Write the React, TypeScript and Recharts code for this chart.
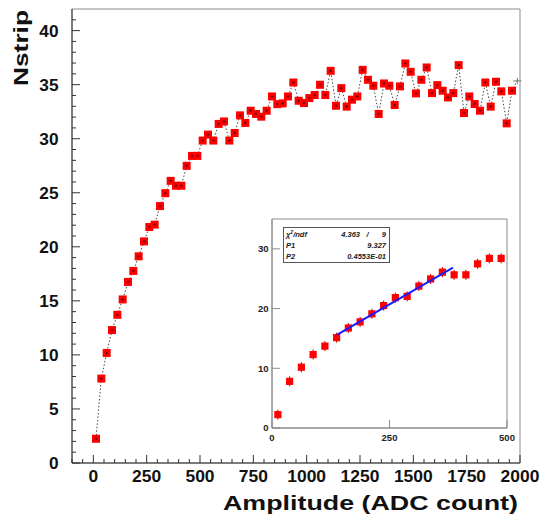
import React from 'react';
import { ComposedChart, Scatter, XAxis, YAxis, ReferenceArea } from 'recharts';

// bin centres (ADC count), 25 wide
const amplitude = [
  12.5, 37.5, 62.5, 87.5, 112.5, 137.5, 162.5, 187.5, 212.5, 237.5,
  262.5, 287.5, 312.5, 337.5, 362.5, 387.5, 412.5, 437.5, 462.5, 487.5,
  512.5, 537.5, 562.5, 587.5, 612.5, 637.5, 662.5, 687.5, 712.5, 737.5,
  762.5, 787.5, 812.5, 837.5, 862.5, 887.5, 912.5, 937.5, 962.5, 987.5,
  1012.5, 1037.5, 1062.5, 1087.5, 1112.5, 1137.5, 1162.5, 1187.5, 1212.5, 1237.5,
  1262.5, 1287.5, 1312.5, 1337.5, 1362.5, 1387.5, 1412.5, 1437.5, 1462.5, 1487.5,
  1512.5, 1537.5, 1562.5, 1587.5, 1612.5, 1637.5, 1662.5, 1687.5, 1712.5, 1737.5,
  1762.5, 1787.5, 1812.5, 1837.5, 1862.5, 1887.5, 1912.5, 1937.5, 1962.5, 1987.5,
];

const nstrip = [
  2.24, 7.81, 10.18, 12.3, 13.71, 15.13, 16.75, 17.77, 19.12, 20.5,
  21.83, 22.05, 23.77, 24.96, 26.1, 25.65, 25.65, 27.49, 28.41, 28.41,
  29.83, 30.38, 29.83, 31.37, 31.6, 29.83, 30.53, 32.16, 31.46, 32.59,
  32.29, 32.04, 32.59, 33.91, 33.2, 33.27, 33.91, 35.2, 33.51, 33.3,
  33.76, 34.04, 34.99, 34.04, 36.28, 33.05, 34.68, 32.97, 33.61, 33.91,
  36.37, 35.45, 34.9, 32.29, 35.11, 34.9, 33.12, 34.84, 36.96, 36.19,
  34.19, 35.45, 36.59, 34.22, 34.96, 34.44, 33.82, 34.22, 36.81, 32.38,
  33.91, 33.21, 32.59, 35.2, 32.97, 35.27, 34.38, 31.42, 34.44, 35.35,
];

// inset: first 20 bins with the linear fit
const insetBins = 20;
const fitAmplitude = [138, 385];
const fitNstrip = [15.6, 26.86];

const xMajorTicks = [0, 250, 500, 750, 1000, 1250, 1500, 1750, 2000];
const yMajorTicks = [0, 5, 10, 15, 20, 25, 30, 35, 40];
const insetXTicks = [0, 250, 500];
const insetYTicks = [0, 10, 20, 30];

const statsRows = [
  { name: 'ndf', value: '4.363', extra: '9' },
  { name: 'P1', value: '9.327' },
  { name: 'P2', value: '0.4553E-01' },
];

const xMinorTicks: number[] = [];
for (let v = -100; v <= 2000; v += 50) xMinorTicks.push(v);
const yMinorTicks: number[] = [];
for (let v = 0; v <= 41; v += 1) yMinorTicks.push(v);

const mainData = amplitude.map((a, i) => ({ amplitude: a, nstrip: nstrip[i] }));
const insetData = mainData.slice(0, insetBins);
const fitData = fitAmplitude.map((a, i) => ({ amplitude: a, nstrip: fitNstrip[i] }));

const FONT = '"Liberation Sans", Arial, Helvetica, sans-serif';
const AXIS = '#333';
const FRAME = '#8c8c8c';
const lastAmp = amplitude[amplitude.length - 1];

const MainXTick = (props: any) => {
  const { x, y, payload } = props;
  const major = xMajorTicks.includes(payload.value);
  const label = String(payload.value);
  return (
    <g>
      <line x1={x} x2={x} y1={y} y2={y - (major ? 8 : 4)} stroke={AXIS} />
      {major && (
        <text x={x} y={y + 19} textAnchor="middle" fontFamily={FONT} fontWeight="bold" fontSize={17}
          fill="#111" textLength={label.length * 9.7} lengthAdjust="spacingAndGlyphs">
          {label}
        </text>
      )}
    </g>
  );
};

const MainYTick = (props: any) => {
  const { x, y, payload } = props;
  const major = yMajorTicks.includes(payload.value);
  const label = String(payload.value);
  return (
    <g>
      <line x1={x} x2={x + (major ? 8 : 4)} y1={y} y2={y} stroke={AXIS} />
      {major && (
        <text x={x - 13.5} y={y + 6} textAnchor="end" fontFamily={FONT} fontWeight="bold" fontSize={17}
          fill="#111" textLength={label.length * 9.6} lengthAdjust="spacingAndGlyphs">
          {label}
        </text>
      )}
    </g>
  );
};

const InsetXTick = (props: any) => {
  const { x, y, payload } = props;
  return (
    <g>
      <line x1={x} x2={x} y1={y} y2={y - 8} stroke={FRAME} />
      <text x={x} y={y + 13} textAnchor="middle" fontFamily={FONT} fontWeight="bold" fontSize={9.5} fill="#222">
        {payload.value}
      </text>
    </g>
  );
};

const InsetYTick = (props: any) => {
  const { x, y, payload } = props;
  return (
    <g>
      <line x1={x} x2={x + 8} y1={y} y2={y} stroke={FRAME} />
      <text x={x - 3.5} y={y + 3.4} textAnchor="end" fontFamily={FONT} fontWeight="bold" fontSize={9.5} fill="#222">
        {payload.value}
      </text>
    </g>
  );
};

const MainMarker = (props: any) => {
  const { cx, cy, payload } = props;
  if (payload && payload.amplitude === lastAmp) {
    return (
      <path d={`M${cx - 4},${cy}h8M${cx},${cy - 3}v6`} stroke="#777" strokeWidth={1} />
    );
  }
  return (
    <g>
      <rect x={cx - 4} y={cy - 4} width={8} height={8} fill="#ff0000" />
      <path d={`M${cx - 1.5},${cy}h3M${cx},${cy - 1.5}v3`} stroke="#660000" strokeWidth={0.8} />
    </g>
  );
};

const InsetMarker = (props: any) => {
  const { cx, cy } = props;
  return (
    <g>
      <line x1={cx} x2={cx} y1={cy - 5} y2={cy + 5} stroke="#b00000" strokeWidth={1} />
      <rect x={cx - 3.6} y={cy - 3.6} width={7.2} height={7.2} fill="#ff0000" />
    </g>
  );
};

const NoMarker = () => <g />;

const YTitle = (props: any) => {
  const { viewBox } = props;
  const x = viewBox.x + 15.5;
  const y = viewBox.y + 1;
  return (
    <text x={x} y={y} transform={`rotate(-90 ${x} ${y})`} textAnchor="end" fontFamily={FONT}
      fontWeight="bold" fontSize={20} fill="#111" textLength={76} lengthAdjust="spacingAndGlyphs">
      Nstrip
    </text>
  );
};

const XTitle = (props: any) => {
  const { viewBox } = props;
  return (
    <text x={viewBox.x + viewBox.width - 2} y={viewBox.y + 47} textAnchor="end" fontFamily={FONT}
      fontWeight="bold" fontSize={21} fill="#111" textLength={295} lengthAdjust="spacingAndGlyphs">
      Amplitude (ADC count)
    </text>
  );
};

export default function App() {
  return (
    <div style={{ position: 'absolute', left: 0, top: 0, width: 543, height: 520, background: '#fff' }}>
      <ComposedChart width={543} height={520} data={mainData}
        margin={{ top: 9, right: 23, bottom: 17, left: 12 }}>
        <ReferenceArea x1={-100} x2={2000} y1={0} y2={42} fill="none" stroke={FRAME} strokeWidth={1} />
        <XAxis dataKey="amplitude" type="number" domain={[-100, 2000]} ticks={xMinorTicks} interval={0}
          height={40} tickSize={0} tickMargin={0} tick={<MainXTick />} axisLine={{ stroke: AXIS }}
          tickLine={false} label={<XTitle />} />
        <YAxis dataKey="nstrip" type="number" domain={[0, 42]} ticks={yMinorTicks} interval={0}
          width={60} tickSize={0} tickMargin={0} tick={<MainYTick />} axisLine={{ stroke: AXIS }}
          tickLine={false} label={<YTitle />} />
        <Scatter data={mainData} dataKey="nstrip" shape={<MainMarker />} isAnimationActive={false}
          line={{ stroke: '#444', strokeWidth: 1, strokeDasharray: '1.5 2' }} lineType="joint" />
      </ComposedChart>

      <div style={{ position: 'absolute', left: 240, top: 212 }}>
        <ComposedChart width={275} height={240} data={insetData}
          margin={{ top: 7, right: 8, bottom: 6, left: 4 }}>
          <ReferenceArea x1={0} x2={500} y1={0} y2={35} fill="#fff" stroke={FRAME} strokeWidth={1} />
          <XAxis dataKey="amplitude" type="number" domain={[0, 500]} ticks={insetXTicks} interval={0}
            height={18} tickSize={0} tickMargin={0} tick={<InsetXTick />} axisLine={{ stroke: FRAME }}
            tickLine={false} />
          <YAxis dataKey="nstrip" type="number" domain={[0, 35]} ticks={insetYTicks} interval={0}
            width={28} tickSize={0} tickMargin={0} tick={<InsetYTick />} axisLine={{ stroke: FRAME }}
            tickLine={false} />
          <Scatter data={insetData} dataKey="nstrip" shape={<InsetMarker />} isAnimationActive={false} />
          <Scatter data={fitData} dataKey="nstrip" shape={<NoMarker />} isAnimationActive={false}
            line={{ stroke: '#1a1aff', strokeWidth: 2 }} lineType="joint" />
        </ComposedChart>
      </div>

      <svg width={543} height={520} style={{ position: 'absolute', left: 0, top: 0, pointerEvents: 'none' }}>
        <rect x={283.5} y={227.5} width={106} height={35} fill="#fff" stroke="#555" strokeWidth={1} />
        <g fontFamily={FONT} fontWeight="bold" fontStyle="italic" fontSize={7.5} fill="#222">
          <text x={286} y={237}>
            χ<tspan dy={-3} fontSize={5}>2</tspan><tspan dy={3}>/{statsRows[0].name}</tspan>
          </text>
          <text x={360} y={237} textAnchor="end">{statsRows[0].value}</text>
          <text x={367.5} y={237} textAnchor="middle">/</text>
          <text x={386} y={237} textAnchor="end">{statsRows[0].extra}</text>
          <text x={286} y={248}>{statsRows[1].name}</text>
          <text x={386} y={248} textAnchor="end">{statsRows[1].value}</text>
          <text x={286} y={259}>{statsRows[2].name}</text>
          <text x={386} y={259} textAnchor="end">{statsRows[2].value}</text>
        </g>
      </svg>
    </div>
  );
}
